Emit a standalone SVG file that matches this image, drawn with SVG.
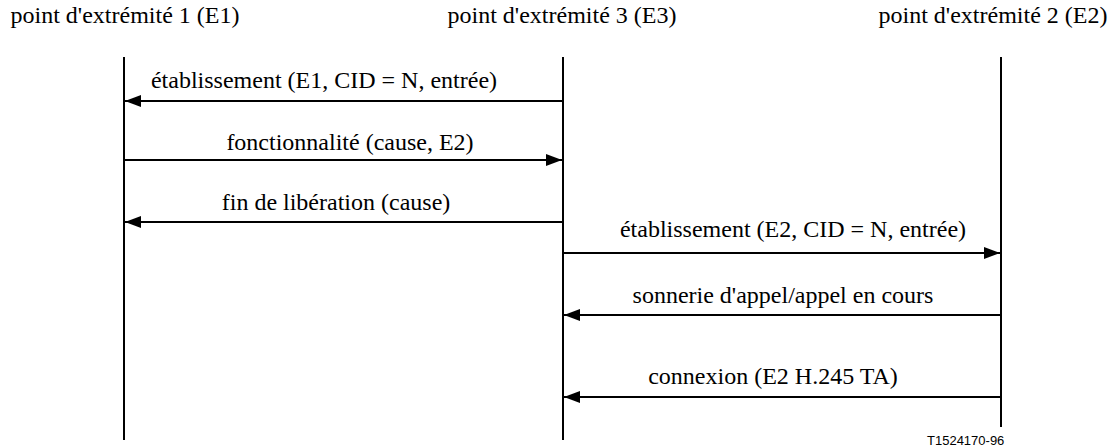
<svg xmlns="http://www.w3.org/2000/svg" width="1117" height="448" viewBox="0 0 1117 448">
<style>
.t{font-family:"Liberation Serif","Times New Roman",serif;font-size:24px;fill:#000}
.lbl{font-family:"Liberation Serif","Times New Roman",serif;font-size:24px;fill:#000;text-anchor:middle}
.life{stroke:#000;stroke-width:2;fill:none}
.msg{stroke:#000;stroke-width:2;fill:none;marker-end:url(#ah)}
.ref{font-family:"Liberation Sans",Arial,sans-serif;font-size:13px;fill:#000}
</style>
<defs>
<marker id="ah" viewBox="0 0 16 12" refX="16" refY="6" markerWidth="16" markerHeight="12" markerUnits="userSpaceOnUse" orient="auto">
<path d="M0,0 L16,6 L0,12 Z" fill="#000"/>
</marker>
</defs>
<rect width="1117" height="448" fill="#fff"/>
<g id="E1">
<text class="t" x="125" y="23" text-anchor="middle">point d'extrémité 1 (E1)</text>
<line class="life" x1="124" y1="57" x2="124" y2="440"/>
</g>
<g id="E3">
<text class="t" x="562" y="23" text-anchor="middle">point d'extrémité 3 (E3)</text>
<line class="life" x1="563" y1="57" x2="563" y2="440"/>
</g>
<g id="E2">
<text class="t" x="993" y="23" text-anchor="middle">point d'extrémité 2 (E2)</text>
<line class="life" x1="1001" y1="57" x2="1001" y2="427"/>
</g>
<g id="connectors">
<line class="msg" x1="563" y1="101" x2="125" y2="101"/>
<text class="lbl" x="324" y="88">établissement (E1, CID = N, entrée)</text>
<line class="msg" x1="124" y1="160" x2="562" y2="160"/>
<text class="lbl" x="350" y="150">fonctionnalité (cause, E2)</text>
<line class="msg" x1="563" y1="222" x2="125" y2="222"/>
<text class="lbl" x="336" y="210">fin de libération (cause)</text>
<line class="msg" x1="563" y1="253" x2="1000" y2="253"/>
<text class="lbl" x="793" y="237">établissement (E2, CID = N, entrée)</text>
<line class="msg" x1="1001" y1="315" x2="564" y2="315"/>
<text class="lbl" x="783" y="303">sonnerie d'appel/appel en cours</text>
<line class="msg" x1="1001" y1="397" x2="564" y2="397"/>
<text class="lbl" x="773" y="384">connexion (E2 H.245 TA)</text>
</g>
<text class="ref" x="927" y="445">T1524170-96</text>
</svg>
